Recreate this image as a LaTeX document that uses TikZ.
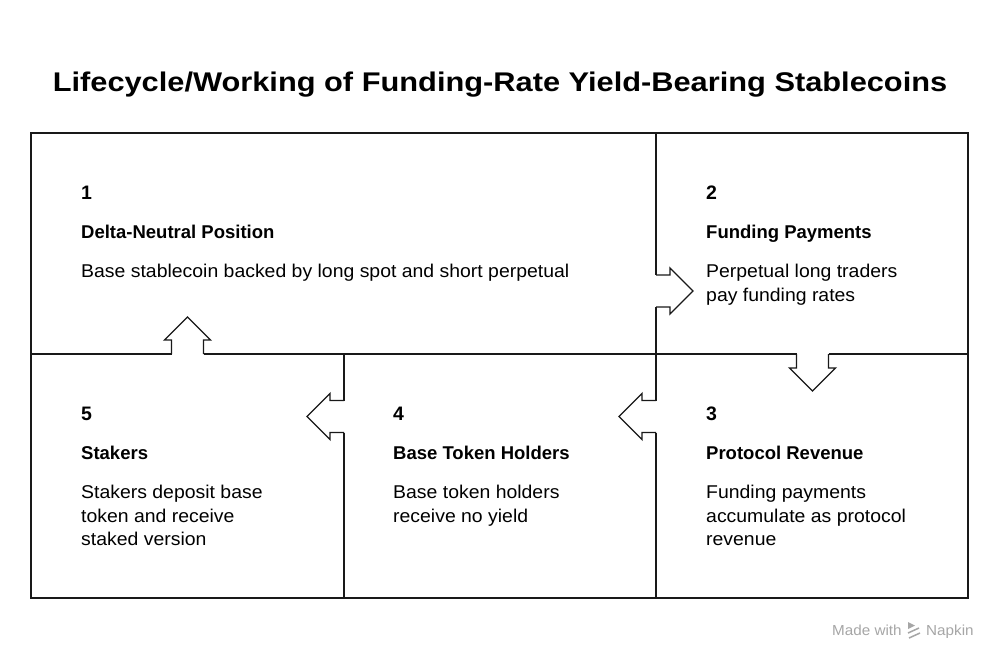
\documentclass[tikz,border=0pt]{standalone}
\usepackage{fontspec}
\setmainfont{Liberation Sans}
\newfontfamily\titlefont{Liberation Sans}[FakeStretch=1.14]
\newfontfamily\bodyfont{Liberation Sans}[FakeStretch=1.05]
\newfontfamily\headfont{Liberation Sans}[FakeStretch=1.0]
\begin{document}
\begin{tikzpicture}[x=1pt,y=-1pt,
  frame/.style={line width=1.3pt, line join=miter, black!90},
  numtxt/.style={anchor=base west, inner sep=0pt, font=\headfont\fontsize{19.5}{22}\selectfont\bfseries},
  headtxt/.style={anchor=base west, inner sep=0pt, font=\headfont\fontsize{18.5}{22}\selectfont\bfseries},
  bodytxt/.style={anchor=base west, inner sep=0pt, font=\bodyfont\fontsize{18.5}{22}\selectfont},
  marktxt/.style={anchor=base west, inner sep=0pt, text=black!35, font=\bodyfont\fontsize{14.5}{16}\selectfont},
  flowarrow/.pic={\draw[frame] (0,-16) -- (14,-16) -- (14,-23) -- (37,0) -- (14,23) -- (14,16) -- (0,16);}
]
\useasboundingbox (0,0) rectangle (1000,662);
\fill[white] (0,0) rectangle (1000,662);

\node[anchor=base, inner sep=0pt, font=\titlefont\fontsize{27}{32}\selectfont\bfseries] (title) at (500,91) {Lifecycle/Working of Funding-Rate Yield-Bearing Stablecoins};

% outer frame
\draw[frame] (31,133) rectangle (968,598);
% horizontal middle line with breaks
\draw[frame] (31,354) -- (171.5,354);
\draw[frame] (203.5,354) -- (796.5,354);
\draw[frame] (828.5,354) -- (968,354);
% vertical line x=656
\draw[frame] (656,133) -- (656,275);
\draw[frame] (656,307) -- (656,400.5);
\draw[frame] (656,432.5) -- (656,598);
% vertical line x=344
\draw[frame] (344,354) -- (344,400.5);
\draw[frame] (344,432.5) -- (344,598);

% arrows
\pic at (656,291) {flowarrow};
\pic[rotate=-90] at (812.5,354) {flowarrow};
\pic[rotate=180] at (656,416.5) {flowarrow};
\pic[rotate=180] at (344,416.5) {flowarrow};
\pic[rotate=90] at (187.5,354) {flowarrow};

% cell 1
\node[numtxt] (n1) at (81,199) {1};
\node[headtxt] (h1) at (81,238.5) {Delta-Neutral Position};
\node[bodytxt] (b1a) at (81,277.5) {Base stablecoin backed by long spot and short perpetual};
% cell 2
\node[numtxt] (n2) at (706,199) {2};
\node[headtxt] (h2) at (706,238.5) {Funding Payments};
\node[bodytxt] (b2a) at (706,277.5) {Perpetual long traders};
\node[bodytxt] (b2b) at (706,301) {pay funding rates};
% cell 3
\node[numtxt] (n3) at (706,420) {3};
\node[headtxt] (h3) at (706,459.5) {Protocol Revenue};
\node[bodytxt] (b3a) at (706,498.5) {Funding payments};
\node[bodytxt] (b3b) at (706,522) {accumulate as protocol};
\node[bodytxt] (b3c) at (706,545.5) {revenue};
% cell 4
\node[numtxt] (n4) at (393,420) {4};
\node[headtxt] (h4) at (393,459.5) {Base Token Holders};
\node[bodytxt] (b4a) at (393,498.5) {Base token holders};
\node[bodytxt] (b4b) at (393,522) {receive no yield};
% cell 5
\node[numtxt] (n5) at (81,420) {5};
\node[headtxt] (h5) at (81,459.5) {Stakers};
\node[bodytxt] (b5a) at (81,498.5) {Stakers deposit base};
\node[bodytxt] (b5b) at (81,522) {token and receive};
\node[bodytxt] (b5c) at (81,545.5) {staked version};

% watermark
\node[marktxt] (made) at (832,635) {Made with};
\begin{scope}[black!35, line width=1.5pt]
\fill (908,622) -- (915,625.5) -- (908,629) -- cycle;
\draw (908,633) -- (919,628);
\draw (909,638) -- (920,633);
\end{scope}
\node[marktxt] (napkin) at (926,635) {Napkin};
\end{tikzpicture}
\end{document}
